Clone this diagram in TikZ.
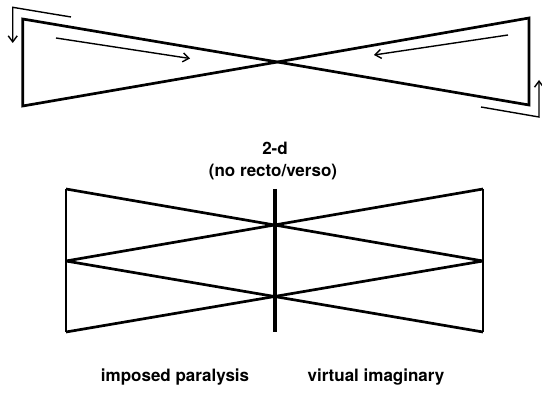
\documentclass[tikz,border=0pt]{standalone}
\usepackage{fontspec}
\setmainfont{TeX Gyre Heros}
\usetikzlibrary{arrows.meta}
\begin{document}
\begin{tikzpicture}[x=1pt,y=-1pt,
  outline/.style={line width=2.7pt,line join=miter},
  flow/.style={line width=1.4pt,-{Straight Barb[length=6pt,width=9pt,line width=1.4pt]}},
  lbl/.style={font=\fontsize{17}{19}\selectfont\bfseries,inner sep=0pt,anchor=center}]
\useasboundingbox (0,0) rectangle (542,398);
% top bow tie
\coordinate (LT) at (22.7,19);
\coordinate (LB) at (22.7,106);
\coordinate (C) at (277.5,62);
\coordinate (RT) at (529,18);
\coordinate (RB) at (529,105);
\draw[outline] (LT) -- (C) -- (LB) -- cycle;
\draw[outline] (RT) -- (C) -- (RB) -- cycle;
% arrows
\coordinate (a1) at (71,17);
\coordinate (a2) at (12.7,7.3);
\coordinate (a3) at (12.7,43);
\draw[flow,line join=miter] (a1) -- (a2) -- (a3);
\coordinate (b1) at (56,38);
\coordinate (b2) at (190,58.5);
\draw[flow] (b1) -- (b2);
\coordinate (c1) at (508,35);
\coordinate (c2) at (374,55);
\draw[flow] (c1) -- (c2);
\coordinate (d1) at (481,107);
\coordinate (d2) at (539,117);
\coordinate (d3) at (539,80);
\draw[flow,line join=miter] (d1) -- (d2) -- (d3);
% labels
\node[lbl] (t1) at (275,148) {2-d};
\node[lbl] (t2) at (273,172) {(no recto/verso)};
% bottom figure
\coordinate (P1) at (66,189);
\coordinate (P2) at (66,261);
\coordinate (P3) at (66,332);
\coordinate (Q1) at (483,189);
\coordinate (Q2) at (483,261);
\coordinate (Q3) at (483,332);
\draw[outline] (P1) -- (P3);
\draw[outline] (Q1) -- (Q3);
\draw[outline] (P1) -- (Q2);
\draw[outline] (P2) -- (Q1);
\draw[outline] (P2) -- (Q3);
\draw[outline] (P3) -- (Q2);
\coordinate (M1) at (275,189);
\coordinate (M2) at (275,332);
\draw[line width=3.3pt] (M1) -- (M2);
\node[lbl] (i1) at (175,377) {imposed paralysis};
\node[lbl] (i2) at (376,377) {virtual imaginary};
\end{tikzpicture}
\end{document}
